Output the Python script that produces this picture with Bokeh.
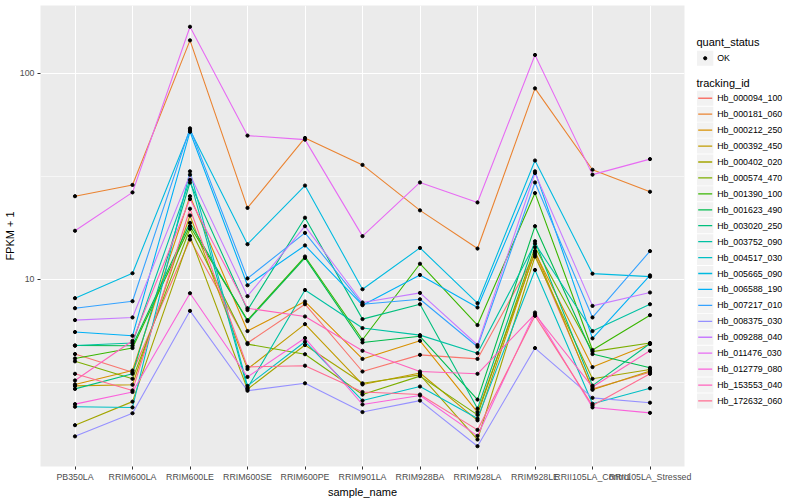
from bokeh.plotting import figure
from bokeh.models import Range1d, FixedTicker, BasicTickFormatter, ColumnDataSource
from bokeh.layouts import row
from bokeh.embed import file_html
from bokeh.resources import INLINE
from bokeh.core.properties import value

samples = ["PB350LA", "RRIM600LA", "RRIM600LE", "RRIM600SE", "RRIM600PE", "RRIM901LA",
           "RRIM928BA", "RRIM928LA", "RRIM928LE", "RRII105LA_Control", "RRII105LA_Stressed"]

tracking_ids = ["Hb_000094_100", "Hb_000181_060", "Hb_000212_250", "Hb_000392_450",
                "Hb_000402_020", "Hb_000574_470", "Hb_001390_100", "Hb_001623_490",
                "Hb_003020_250", "Hb_003752_090", "Hb_004517_030", "Hb_005665_090",
                "Hb_006588_190", "Hb_007217_010", "Hb_008375_030", "Hb_009288_040",
                "Hb_011476_030", "Hb_012779_080", "Hb_153553_040", "Hb_172632_060"]

# FPKM + 1 per sample (order of `samples`)
hb_000094_100 = [4.34, 3.54, 15.6, 4.91, 7.57, 3.57, 4.30, 4.11, 13.2, 2.94, 3.54]
hb_000181_060 = [25.3, 28.7, 144.3, 22.2, 48.5, 35.9, 21.6, 14.1, 84.4, 34.0, 26.6]
hb_000212_250 = [3.09, 3.61, 25.3, 5.61, 7.80, 4.11, 5.03, 2.27, 13.5, 3.75, 4.85]
hb_000392_450 = [3.04, 3.08, 20.4, 3.67, 6.06, 3.09, 3.51, 2.07, 13.7, 2.91, 3.59]
hb_000402_020 = [1.96, 2.55, 16.2, 2.93, 4.80, 3.13, 3.44, 1.67, 12.9, 3.29, 3.65]
hb_000574_470 = [4.00, 3.29, 17.6, 4.85, 4.33, 2.76, 3.39, 2.20, 14.3, 4.46, 4.91]
hb_001390_100 = [4.13, 4.64, 18.1, 6.34, 12.9, 5.09, 11.9, 6.00, 26.2, 4.54, 6.70]
hb_001623_490 = [4.77, 4.76, 18.8, 6.27, 12.7, 4.94, 5.29, 2.61, 18.1, 4.34, 3.72]
hb_003020_250 = [2.94, 3.48, 29.5, 7.09, 19.9, 6.41, 7.57, 2.36, 15.3, 3.05, 4.88]
hb_003752_090 = [4.77, 4.91, 30.4, 2.97, 8.88, 5.80, 5.36, 4.38, 14.9, 5.61, 7.57]
hb_004517_030 = [2.41, 2.39, 33.4, 3.04, 4.98, 2.58, 3.02, 2.11, 11.1, 2.49, 2.96]
hb_005665_090 = [8.10, 10.7, 53.0, 14.8, 28.5, 8.95, 14.2, 7.66, 37.7, 10.65, 10.3]
hb_006588_190 = [5.55, 5.32, 52.0, 9.36, 14.6, 7.49, 10.5, 7.30, 33.4, 5.17, 10.45]
hb_007217_010 = [7.24, 7.83, 54.0, 10.1, 16.8, 7.57, 8.00, 4.71, 29.5, 6.53, 13.7]
hb_008375_030 = [1.73, 2.24, 7.03, 2.88, 3.13, 2.27, 2.58, 1.55, 4.64, 2.66, 2.52]
hb_009288_040 = [6.34, 6.53, 32.2, 8.28, 18.1, 7.72, 8.59, 4.80, 32.8, 7.43, 8.63]
hb_011476_030 = [17.2, 26.4, 168.0, 49.8, 47.6, 16.2, 29.5, 23.6, 122.6, 32.2, 38.3]
hb_012779_080 = [2.48, 2.84, 8.56, 3.36, 5.19, 2.47, 2.73, 1.74, 6.90, 2.39, 2.25]
hb_153553_040 = [3.23, 5.03, 24.5, 7.24, 6.60, 4.50, 3.57, 3.48, 6.77, 3.00, 4.50]
hb_172632_060 = [3.48, 2.89, 22.0, 3.76, 3.81, 2.84, 2.76, 1.86, 6.65, 2.44, 3.48]

series = [hb_000094_100, hb_000181_060, hb_000212_250, hb_000392_450, hb_000402_020,
          hb_000574_470, hb_001390_100, hb_001623_490, hb_003020_250, hb_003752_090,
          hb_004517_030, hb_005665_090, hb_006588_190, hb_007217_010, hb_008375_030,
          hb_009288_040, hb_011476_030, hb_012779_080, hb_153553_040, hb_172632_060]

colors = ["#F8766D", "#EA8331", "#D89000", "#C09B00", "#A3A500", "#7CAE00", "#39B600",
          "#00BB4E", "#00BF7D", "#00C1A3", "#00BFC4", "#00BAE0", "#00B0F6", "#35A2FF",
          "#9590FF", "#C77CFF", "#E76BF3", "#FA62DB", "#FF62BC", "#FF6C91"]

FONT = "Liberation Sans"
x_pos = list(range(1, len(samples) + 1))

p = figure(width=692, height=500, output_backend="svg", toolbar_location=None,
           x_range=Range1d(0.4, 11.6), y_range=Range1d(1.2355, 213.0),
           y_axis_type="log",
           min_border_left=40, min_border_right=8, min_border_top=5, min_border_bottom=32)

p.background_fill_color = "#EBEBEB"
p.border_fill_color = "white"
p.outline_line_color = None

p.xaxis.ticker = FixedTicker(ticks=x_pos)
p.xaxis.major_label_overrides = {i + 1: s for i, s in enumerate(samples)}
p.yaxis.ticker = FixedTicker(ticks=[1, 10, 100, 1000], minor_ticks=[3.1623, 31.623, 316.23])
p.yaxis.formatter = BasicTickFormatter()

p.xgrid.grid_line_color = "white"
p.xgrid.grid_line_width = 1.1
p.ygrid.grid_line_color = "white"
p.ygrid.grid_line_width = 1.1
p.ygrid.minor_grid_line_color = "white"
p.ygrid.minor_grid_line_width = 0.55

for ax in (p.xaxis, p.yaxis):
    ax.axis_line_color = None
    ax.major_tick_line_color = "#333333"
    ax.major_tick_out = 3
    ax.major_tick_in = 0
    ax.minor_tick_line_color = None
    ax.major_label_text_font = FONT
    ax.major_label_text_font_size = "8.8px"
    ax.major_label_text_color = "#4D4D4D"
    ax.major_label_standoff = 2
    ax.axis_label_text_font = FONT
    ax.axis_label_text_font_size = "11px"
    ax.axis_label_text_font_style = "normal"
    ax.axis_label_text_color = "black"
    ax.axis_label_standoff = 1

p.xaxis.axis_label = "sample_name"
p.yaxis.axis_label = "FPKM + 1"

for vals, col in zip(series, colors):
    p.line(x_pos, vals, line_color=col, line_width=1.1)
for vals in series:
    p.scatter(x_pos, vals, size=3.2, color="black")

# legend panel
lg = figure(width=108, height=500, output_backend="svg", toolbar_location=None,
            x_range=Range1d(0, 108), y_range=Range1d(500, 0),
            x_axis_type=None, y_axis_type=None, min_border=0)
lg.outline_line_color = None
lg.background_fill_color = "white"
lg.border_fill_color = "white"
lg.grid.visible = False

key_x = 12.7
text_x = 24.7
lg.text(x=[4], y=[40], text=["quant_status"], text_baseline="middle",
        text_font=value(FONT), text_font_size="11px", text_color="black")
lg.rect(x=[key_x], y=[57.2], width=16.3, height=16.3, fill_color="#F2F2F2", line_color=None)
lg.scatter(x=[key_x], y=[57.2], size=3.2, color="black")
lg.text(x=[text_x], y=[57.2], text=["OK"], text_baseline="middle",
        text_font=value(FONT), text_font_size="8.8px", text_color="black")

lg.text(x=[4], y=[84], text=["tracking_id"], text_baseline="middle",
        text_font=value(FONT), text_font_size="11px", text_color="black")
item_y = [100.6 + i * 17.28 for i in range(len(tracking_ids))]
src = ColumnDataSource(dict(y=item_y, label=tracking_ids, color=colors,
                            x=[key_x] * len(item_y), x0=[5.7] * len(item_y),
                            x1=[19.7] * len(item_y), tx=[text_x] * len(item_y)))
lg.rect(x="x", y="y", width=16.3, height=16.3, fill_color="#F2F2F2", line_color=None, source=src)
lg.segment(x0="x0", x1="x1", y0="y", y1="y", line_color="color", line_width=1.3, source=src)
lg.text(x="tx", y="y", text="label", text_baseline="middle", text_font=value(FONT),
        text_font_size="8.8px", text_color="black", source=src)

layout = row(p, lg)
open("out.html", "w").write(file_html(layout, INLINE))
